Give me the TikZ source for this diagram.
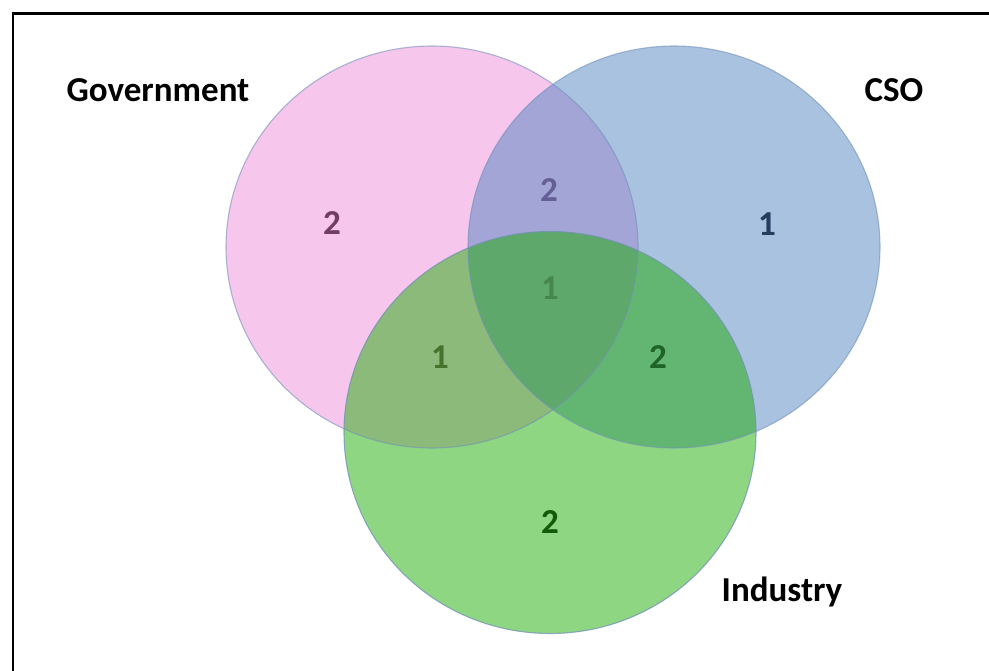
\documentclass[tikz,border=0pt]{standalone}
\usepackage{fontspec}
\setmainfont{Carlito}
\definecolor{pinkc}{RGB}{246,198,236}
\definecolor{bluec}{RGB}{168,194,224}
\definecolor{greenc}{RGB}{142,214,130}
\definecolor{pbc}{RGB}{163,165,214}
\definecolor{pgc}{RGB}{140,186,122}
\definecolor{bgc}{RGB}{98,182,114}
\definecolor{allc}{RGB}{94,168,107}
\definecolor{edgec}{RGB}{115,145,185}
\definecolor{tpink}{RGB}{115,60,100}
\definecolor{tpb}{RGB}{100,95,150}
\definecolor{tblue}{RGB}{40,60,95}
\definecolor{tall}{RGB}{70,135,75}
\definecolor{tpg}{RGB}{70,115,45}
\definecolor{tbg}{RGB}{30,100,40}
\definecolor{tgreen}{RGB}{20,90,10}
\tikzset{
  setlabel/.style={font=\fontsize{35}{42}\selectfont\bfseries, text=black, inner sep=0pt},
  numlabel/.style={font=\fontsize{35}{42}\selectfont\bfseries, inner sep=0pt},
  frameline/.style={line width=2.6pt, black},
  edgeline/.style={line width=1.1pt, edgec}
}
\newcommand{\gov}{(432,247) ellipse [x radius=206pt, y radius=201pt]}
\newcommand{\cso}{(674,247) ellipse [x radius=206pt, y radius=201pt]}
\newcommand{\ind}{(550,432.5) ellipse [x radius=206pt, y radius=201pt]}
\begin{document}
\begin{tikzpicture}[x=1pt,y=-1pt]
\useasboundingbox (0,0) rectangle (989,671);
% frame
\draw[frameline] (13,671) -- (13,13.3) -- (989,13.3);
% base fills
\fill[pinkc] \gov;
\fill[bluec] \cso;
\fill[greenc] \ind;
% overlaps
\begin{scope}
  \clip \gov;
  \fill[pbc] \cso;
  \fill[pgc] \ind;
\end{scope}
\begin{scope}
  \clip \cso;
  \fill[bgc] \ind;
\end{scope}
\begin{scope}
  \clip \gov;
  \clip \cso;
  \fill[allc] \ind;
\end{scope}
% outlines
\draw[edgeline, draw opacity=0.6] \gov;
\draw[edgeline, draw opacity=0.6] \cso;
\draw[edgeline, draw opacity=0.75] \ind;
% set labels
\node[setlabel, anchor=base] (lgov) at (158,102) {Government};
\node[setlabel, anchor=base] (lcso) at (894,102) {CSO};
\node[setlabel, anchor=base] (lind) at (782,601) {Industry};
% counts
\node[numlabel, text=tpink, anchor=base] (ngov) at (332,235) {2};
\node[numlabel, text=tpb, anchor=base] (ngc) at (549,202) {2};
\node[numlabel, text=tblue, anchor=base] (ncso) at (767,236) {1};
\node[numlabel, text=tall, anchor=base] (nall) at (550,300) {1};
\node[numlabel, text=tpg, anchor=base] (ngi) at (440,368) {1};
\node[numlabel, text=tbg, anchor=base] (nci) at (658,368) {2};
\node[numlabel, text=tgreen, anchor=base] (nind) at (550,533) {2};
\end{tikzpicture}
\end{document}
